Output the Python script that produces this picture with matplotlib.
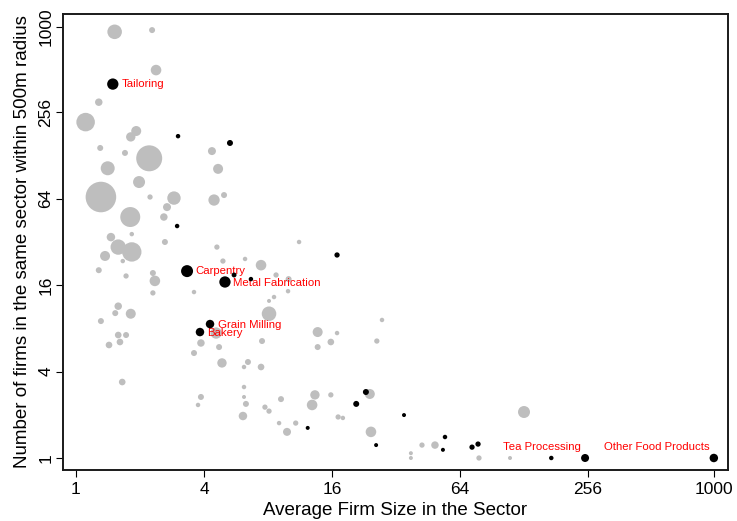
import matplotlib
matplotlib.use("Agg")
import matplotlib.pyplot as plt
from matplotlib.ticker import FixedLocator, FixedFormatter, NullLocator

plt.rcParams['font.family'] = ['Liberation Sans', 'DejaVu Sans']

# Sectors not highlighted (gray bubbles), weight ~ bubble area
gray_x = [1.52, 2.28, 2.38, 1.28, 1.11, 1.92, 1.81, 1.30, 1.70, 2.21,
          4.36, 1.41, 4.66, 1.98, 1.31, 2.23, 2.89, 4.46, 4.97, 2.68,
          1.80, 2.59, 1.83, 1.46, 2.62, 1.58, 1.83, 4.60, 1.37, 1.66,
          4.91, 1.28, 1.72, 2.30, 2.35, 2.30, 3.59, 1.58, 1.53, 1.81,
          1.31, 4.56, 1.58, 1.72, 1.43, 1.61, 3.87, 4.71, 3.59, 4.86,
          1.65, 3.87, 3.75, 11.2, 6.24, 7.42, 8.73, 10.0, 9.94, 8.54,
          8.09, 8.09, 27.5, 13.7, 16.9, 7.50, 15.8, 26.0, 13.7, 6.44,
          6.17, 7.42, 6.17, 6.17, 6.30, 9.21, 13.3, 15.8, 24.1, 12.9,
          7.74, 8.09, 6.10, 17.1, 18.0, 9.02, 10.8, 9.83, 24.4, 128,
          42.4, 48.8, 37.6, 37.6, 78.6, 110]
gray_y = [927, 953, 502, 300, 218, 189, 172, 144, 133, 122,
          137, 104, 103, 83.4, 65.6, 65.6, 64.5, 62.5, 67.7, 55.8,
          47.6, 47.6, 36.2, 34.5, 31.9, 29.4, 27.2, 29.4, 25.5, 23.5,
          23.5, 20.3, 18.5, 19.4, 17.1, 14.1, 14.3, 11.4, 10.2, 10.1,
          8.98, 7.41, 7.18, 7.18, 6.12, 6.42, 6.32, 5.92, 5.38, 4.59,
          3.38, 2.66, 2.34, 31.9, 24.3, 22.0, 18.8, 17.6, 14.5, 13.2,
          12.4, 10.1, 9.14, 7.53, 7.41, 6.52, 6.42, 6.52, 5.92, 4.66,
          4.30, 4.30, 3.12, 2.66, 2.38, 2.57, 2.75, 2.75, 2.79, 2.34,
          2.26, 2.12, 1.96, 1.93, 1.90, 1.75, 1.75, 1.52, 1.52, 2.09,
          1.23, 1.23, 1.08, 1.0, 1.0, 1.0]
gray_w = [53, 9, 28, 14, 86, 25, 22, 9, 9, 169,
          16, 49, 25, 36, 234, 7, 45, 32, 9, 16,
          100, 14, 5, 18, 9, 59, 94, 7, 25, 5,
          7, 9, 7, 9, 28, 7, 5, 14, 9, 25,
          9, 32, 11, 9, 11, 11, 14, 9, 9, 22,
          11, 9, 5, 5, 5, 28, 7, 9, 5, 5,
          4, 53, 5, 25, 5, 9, 11, 7, 9, 9,
          5, 11, 5, 4, 9, 9, 22, 7, 25, 28,
          7, 7, 18, 7, 5, 5, 7, 16, 28, 36,
          7, 14, 4, 4, 7, 4]

# Highlighted sectors (black)
blk_x = [1.49, 3.02, 5.30, 2.99, 3.33, 5.54, 5.02, 6.65, 16.9, 4.27, 3.83,
         23.1, 20.8, 12.3, 25.8, 34.9, 54.4, 53.2, 72.9, 77.8, 172, 248, 1000]
blk_y = [401, 174, 156, 41.2, 20.0, 18.8, 16.8, 17.6, 25.9, 8.56, 7.53,
         2.88, 2.38, 1.62, 1.23, 1.99, 1.40, 1.14, 1.19, 1.25, 1, 1, 1]
blk_w = [32, 5, 9, 5, 36, 6, 32, 5, 7, 18, 18,
         9, 9, 4, 4, 4, 5, 4, 7, 7, 5, 16, 18]

label_names = ['Tailoring', 'Carpentry', 'Metal Fabrication', 'Grain Milling',
               'Bakery', 'Tea Processing', 'Other Food Products']
label_idx = [0, 4, 6, 9, 10, 21, 22]

ticks = [1, 4, 16, 64, 256, 1000]

fig = plt.figure(figsize=(7.37, 5.21), dpi=100)
ax = fig.add_axes([0.0855, 0.0979, 0.9023, 0.8752])

k = 2.07  # area weight -> points^2
ax.scatter(gray_x, gray_y, s=[w * k for w in gray_w], color='#bebebe',
           linewidths=0, zorder=2)
ax.scatter(blk_x, blk_y, s=[w * k for w in blk_w], color='black',
           linewidths=0, zorder=4)

# label placement (offset in points, alignment)
offsets = {
    'Tailoring': (6.5, 0, 'left'),
    'Carpentry': (5.8, 0, 'left'),
    'Metal Fabrication': (5.8, -0.5, 'left'),
    'Grain Milling': (5.8, -0.7, 'left'),
    'Bakery': (5.0, -0.7, 'left'),
    'Tea Processing': (-3, 8, 'right'),
    'Other Food Products': (-3, 8, 'right'),
}
for name, i in zip(label_names, label_idx):
    dx, dy, ha = offsets[name]
    ax.annotate(name, (blk_x[i], blk_y[i]), xytext=(dx, dy),
                textcoords='offset points', ha=ha, va='center',
                color='#ff0000', fontsize=8.2, zorder=3)

ax.set_xscale('log', base=2)
ax.set_yscale('log', base=2)
ax.set_xlim(0.869, 1166)
ax.set_ylim(0.825, 1233)
for axis in (ax.xaxis, ax.yaxis):
    axis.set_major_locator(FixedLocator(ticks))
    axis.set_major_formatter(FixedFormatter([str(t) for t in ticks]))
    axis.set_minor_locator(NullLocator())

ax.tick_params(axis='both', direction='out', length=5, width=0.8,
               labelsize=12.5, top=False, right=False)
ax.tick_params(axis='x', pad=4)
ax.tick_params(axis='y', pad=2)
plt.setp(ax.get_yticklabels(), rotation=90, va='center')

for sp in ax.spines.values():
    sp.set_linewidth(1.4)
    sp.set_color('#1a1a1a')

ax.set_xlabel('Average Firm Size in the Sector', fontsize=13.5, labelpad=3)
ax.set_ylabel('Number of firms in the same sector within 500m radius',
              fontsize=13.5, labelpad=5)

fig.savefig('out.png', dpi=100)
